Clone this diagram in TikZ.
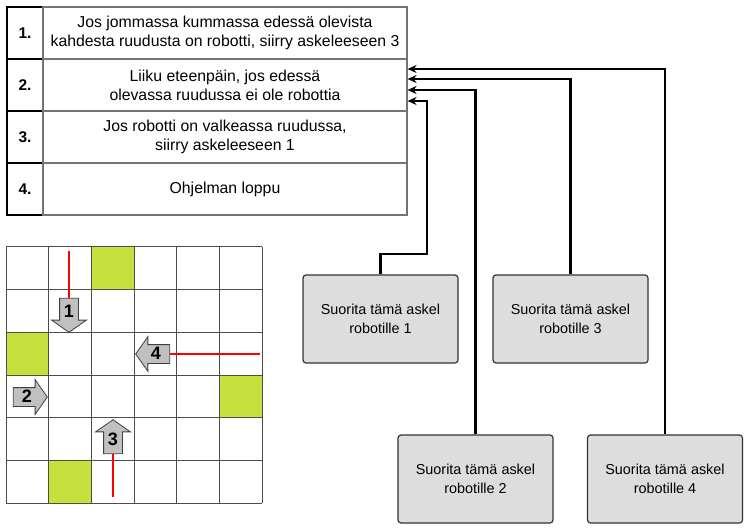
\documentclass[tikz,border=0pt]{standalone}
\usepackage{fontspec}
\setmainfont{Liberation Sans}
\usetikzlibrary{arrows.meta,shapes.arrows}
\definecolor{cellgreen}{RGB}{198,224,62}
\definecolor{boxgray}{RGB}{221,221,221}
\definecolor{robotgray}{RGB}{192,192,192}
\tikzset{
  numcell/.style={draw=black, line width=1.2pt, minimum width=36pt, minimum height=52pt, inner sep=0pt,
                  font=\fontsize{15.5}{19}\selectfont\bfseries},
  txtcell/.style={draw=black!55, line width=1.2pt, minimum width=364pt, minimum height=52pt, inner sep=0pt,
                  align=center, font=\fontsize{15.8}{19}\selectfont},
  stepbox/.style={draw=black!80, fill=boxgray, line width=1.2pt, rounded corners=3pt, minimum width=155pt,
                  minimum height=88pt, align=center, font=\fontsize{14.4}{19}\selectfont},
  link/.style={-{Stealth[length=9pt,width=8pt]}, line width=2.6pt},
  robot/.style={single arrow, draw=black!75, fill=robotgray, line width=0.8pt, text width=11pt, text height=11pt,
                text depth=0pt, align=center, inner sep=3.5pt, minimum height=34pt, single arrow head extend=8pt,
                single arrow tip angle=110, font=\fontsize{18}{18}\selectfont\bfseries},
  trail/.style={red, line width=1.2pt},
  gridline/.style={black!70, line width=1pt}
}

\begin{document}
\begin{tikzpicture}[x=1pt, y=-1pt]
\useasboundingbox (0,0) rectangle (749,529);
% program table
\node[numcell] (n1) at (25,33) {1.};
\node[txtcell] (t1) at (225,33) {Jos jommassa kummassa edessä olevista\\kahdesta ruudusta on robotti, siirry askeleeseen 3};
\node[numcell] (n2) at (25,85) {2.};
\node[txtcell] (t2) at (225,85) {Liiku eteenpäin, jos edessä\\olevassa ruudussa ei ole robottia};
\node[numcell] (n3) at (25,137) {3.};
\node[txtcell] (t3) at (225,137) {Jos robotti on valkeassa ruudussa,\\siirry askeleeseen 1};
\node[numcell] (n4) at (25,189) {4.};
\node[txtcell] (t4) at (225,189) {Ohjelman loppu};

% one box per robot
\node[stepbox] (b1) at (380.5,319) {Suorita tämä askel\\robotille 1};
\node[stepbox] (b3) at (570.5,319) {Suorita tämä askel\\robotille 3};
\node[stepbox] (b2) at (475.5,479) {Suorita tämä askel\\robotille 2};
\node[stepbox] (b4) at (665,479) {Suorita tämä askel\\robotille 4};
\draw[link] (b4.north) |- ([yshift=16pt]t2.east);
\draw[link] (b3.north) |- ([yshift=6pt]t2.east);
\draw[link] (b2.north) |- ([yshift=-5pt]t2.east);
\draw[link] (b1.north) |- (427,254) |- ([yshift=-16pt]t2.east);

% board
\fill[cellgreen] (91.4,247) rectangle ++(42.7,42.7);
\fill[cellgreen] (6,332.4) rectangle ++(42.7,42.7);
\fill[cellgreen] (219.5,375.1) rectangle ++(42.7,42.7);
\fill[cellgreen] (48.7,460.5) rectangle ++(42.7,42.7);
\foreach \k in {0,...,6} {
  \draw[gridline] ({6+42.7*\k},247) -- ({6+42.7*\k},503.2);
  \draw[gridline] (6,{247+42.7*\k}) -- (262.2,{247+42.7*\k});
}
\node[robot, shape border rotate=270] (r1) at (69,312) {1};
\node[robot] (r2) at (27,397) {2};
\node[robot, shape border rotate=90] (r3) at (113,440) {3};
\node[robot, shape border rotate=180] (r4) at (156,354) {4};
\coordinate (s1) at (69,251);
\coordinate (s3) at (113,497);
\coordinate (s4) at (260,354);
\draw[trail] (s1) -- (r1.tail);
\draw[trail] (r3.tail) -- (s3);
\draw[trail] (r4.tail) -- (s4);
\end{tikzpicture}
\end{document}
